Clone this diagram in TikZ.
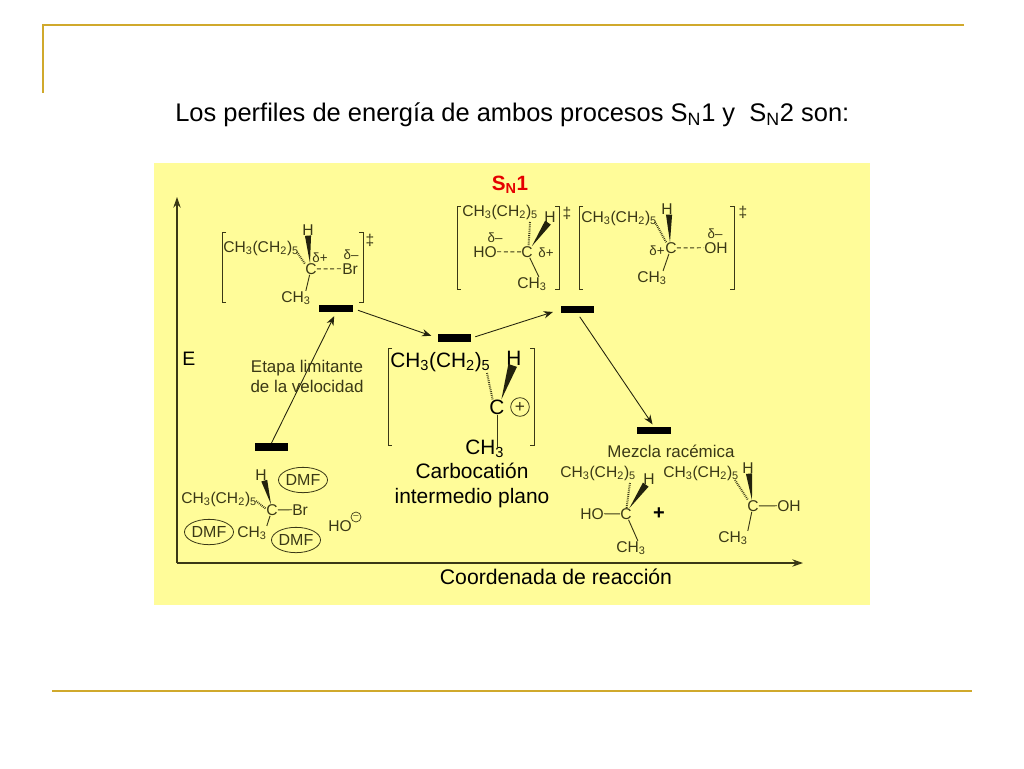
\documentclass[tikz,border=0pt]{standalone}
\usepackage{fontspec}
\setmainfont{Liberation Sans}
\usepackage{tikz}
\usetikzlibrary{shapes,arrows.meta,calc,positioning}

\definecolor{frameline}{HTML}{D0A92C}
\definecolor{panel}{HTML}{FFFC99}
\definecolor{ink}{HTML}{3A3816}

\newcommand{\chainCH}{CH\textsubscript{3}(CH\textsubscript{2})\textsubscript{5}}
\newcommand{\methyl}{CH\textsubscript{3}}
\newcommand{\brackets}[4]{\draw[bracketline] (#1+4,#3) -- (#1,#3) -- (#1,#4) -- (#1+4,#4);
        \draw[bracketline] (#2-4,#3) -- (#2,#3) -- (#2,#4) -- (#2-4,#4);}
\newcommand{\wedgebond}[3]{\fill[ink!60!black] (#1) -- ($(#2)!#3!90:(#1)$) -- ($(#2)!#3!-90:(#1)$) -- cycle;}

\tikzset{
    rule/.style={draw=frameline,line width=1.6pt},
    level/.style={fill=black,minimum width=25pt,minimum height=5.6pt,inner sep=0pt},
    profile/.style={draw=ink!60!black,line width=.65pt,-{Stealth[length=7pt,width=5.5pt]}},
    axis/.style={draw=ink,line width=.9pt,-{Stealth[length=8pt,width=5.5pt]}},
    bond/.style={draw=ink,line width=.7pt},
    partial/.style={bond,dash pattern=on 3pt off 2pt},
    hash/.style={draw=ink,line width=1.5pt,dash pattern=on .6pt off .8pt},
    bracketline/.style={draw=ink,line width=.7pt},
    lab/.style={anchor=base west,inner sep=0pt,text=ink,font=\fontsize{11.7}{14}\selectfont},
    atom/.style={inner sep=0pt,text=ink,font=\fontsize{11.7}{14}\selectfont},
    charge/.style={inner sep=0pt,text=ink,font=\fontsize{10}{12}\selectfont},
    biglab/.style={anchor=base west,inner sep=0pt,text=black,font=\fontsize{15.6}{18}\selectfont},
    bigatom/.style={inner sep=0pt,text=black,font=\fontsize{15.6}{18}\selectfont},
    note/.style={inner sep=0pt,anchor=base,text=ink,font=\fontsize{12.7}{15}\selectfont},
    solvent/.style={ellipse,draw=ink,line width=.6pt,minimum width=33pt,minimum height=19pt,inner sep=0pt,text=ink,font=\fontsize{12}{14}\selectfont},
}

\begin{document}
\begin{tikzpicture}[x=.75pt,y=-.75pt]
    \useasboundingbox (0,0) rectangle (1024,768);
    \draw[rule] (964,25) -- (43,25) -- (43,93);
    \draw[rule] (52,691) -- (972,691);
    \node[anchor=base west,inner sep=0pt,font=\fontsize{19.1}{23}\selectfont] (title) at (175,121) {Los perfiles de energía de ambos procesos S\textsubscript{N}1 y\ \ S\textsubscript{N}2 son:};
    \fill[panel] (154,163) rectangle (870,605);

    \node[anchor=base,inner sep=0pt,text=red!90!black,font=\bfseries\fontsize{15.5}{18}\selectfont] (sn) at (510,190) {S\textsubscript{N}1};

    \coordinate (o) at (177,563);
    \coordinate (ytop) at (177,197);
    \coordinate (xend) at (803,563);
    \draw[axis] (o) -- (ytop);
    \draw[axis] (o) -- (xend);
    \node[anchor=base west,inner sep=0pt,font=\fontsize{14.6}{16}\selectfont] (e) at (182,365) {E};
    \node[anchor=base,inner sep=0pt,font=\fontsize{15.9}{18}\selectfont,text=black] (coord) at (556,584) {Coordenada de reacción};

    \node[level] (bara) at (271.5,447) {};
    \node[level] (barb) at (336,308.5) {};
    \node[level] (barc) at (454.5,338) {};
    \node[level] (bard) at (577.5,309.5) {};
    \node[level] (bare) at (654,430.5) {};
    \draw[profile,shorten >=3pt] (bara.north) -- (barb.south);
    \draw[profile,shorten <=4pt,shorten >=5pt] (barb.east) -- (barc.west);
    \draw[profile,shorten <=3pt,shorten >=6pt] (barc.east) -- (bard.west);
    \draw[profile,shorten <=3pt,shorten >=2pt] (bard.south) -- (bare.north);

    \node[note] (etapa) at (307,372) {Etapa limitante};
    \node[note] (veloc) at (307,392) {de la velocidad};
    \node[note] (mezcla) at (671,457) {Mezcla racémica};

    % first transition state
    \brackets{222}{363}{232}{302}
    \node[lab] (ca) at (223,252) {\chainCH};
    \node[atom] (ha) at (308,230) {H};
    \node[atom] (ctsa) at (311,269) {C};
    \node[lab] (bra) at (342,274) {Br};
    \node[lab] (mea) at (281,302) {\methyl};
    \node[charge] (dpa) at (320,258) {δ+};
    \node[charge] (dma) at (351,255) {δ–};
    \node[atom] (dda) at (370,240) {‡};
    \coordinate (hsa) at (297,252);
    \wedgebond{ctsa.100}{ha.south}{2.3pt}
    \draw[hash] (hsa) -- (ctsa.140);
    \draw[partial] (ctsa) -- (bra);
    \draw[bond] (ctsa) -- (mea.35);

    % second transition state
    \brackets{457}{559}{206}{289}
    \node[lab] (cb) at (462,216) {\chainCH};
    \node[atom] (hb) at (550,217) {H};
    \node[atom] (ctsb) at (527,252) {C};
    \node[lab] (hob) at (473,257) {HO};
    \node[lab] (meb) at (517,288) {\methyl};
    \node[charge] (dpb) at (546,253) {δ+};
    \node[charge] (dmb) at (495,238) {δ–};
    \node[atom] (ddb) at (567,213) {‡};
    \coordinate (hsb) at (530,222);
    \wedgebond{ctsb.50}{hb.-110}{2.6pt}
    \draw[hash] (hsb) -- (ctsb.75);
    \draw[partial] (ctsb) -- (hob);
    \draw[bond] (ctsb) -- (meb.45);

    % third transition state
    \brackets{579}{734}{206}{289}
    \node[lab] (cc) at (581,222) {\chainCH};
    \node[atom] (hc) at (667,209) {H};
    \node[atom] (ctsc) at (671,248) {C};
    \node[lab] (ohc) at (704,253) {OH};
    \node[lab] (mec) at (637,282) {\methyl};
    \node[charge] (dpc) at (657,251) {δ+};
    \node[charge] (dmc) at (715,234) {δ–};
    \node[atom] (ddc) at (743,212) {‡};
    \coordinate (hsc) at (655,222);
    \wedgebond{ctsc.100}{hc.-70}{2.3pt}
    \draw[hash] (hsc) -- (ctsc.130);
    \draw[partial] (ctsc) -- (ohc);
    \draw[bond] (ctsc) -- (mec.32);

    % carbocation
    \brackets{388}{534}{348}{445}
    \node[biglab] (cd) at (390,367) {\chainCH};
    \node[bigatom] (hd) at (514,358) {H};
    \node[bigatom] (cpl) at (497,407) {C};
    \node[biglab] (med) at (465,454) {\methyl};
    \node[circle,draw=ink,line width=.6pt,minimum size=14pt,inner sep=0pt,text=ink,font=\fontsize{13}{13}\selectfont] (plus) at (520,407) {+};
    \coordinate (hsd) at (487,373);
    \wedgebond{cpl.60}{hd.-100}{3.4pt}
    \draw[hash] (hsd) -- (cpl.120);
    \draw[bond] (cpl) -- (cpl |- med);
    \node[anchor=base,inner sep=0pt,font=\fontsize{15.7}{18}\selectfont] (carbo) at (472,478) {Carbocatión};
    \node[anchor=base,inner sep=0pt,font=\fontsize{15.7}{18}\selectfont] (plano) at (472,503) {intermedio plano};

    % reactant
    \node[lab] (ce) at (181,503) {\chainCH};
    \node[atom] (he) at (261,475) {H};
    \node[atom] (cre) at (272,510) {C};
    \node[lab] (bre) at (292,515) {Br};
    \node[lab] (mee) at (237,537) {\methyl};
    \node[lab] (hoe) at (328,531) {HO};
    \node[circle,draw=ink,line width=.5pt,minimum size=7.5pt,inner sep=0pt,text=ink,font=\fontsize{7}{7}\selectfont] (minus) at (356,517) {–};
    \node[solvent] (dmfa) at (303,480) {DMF};
    \node[solvent] (dmfb) at (209,532) {DMF};
    \node[solvent] (dmfc) at (296,540) {DMF};
    \coordinate (hse) at (256,501);
    \wedgebond{cre.100}{he.-60}{2.3pt}
    \draw[hash] (hse) -- (cre.170);
    \draw[bond] (cre) -- (bre);
    \draw[bond] (cre) -- (mee.25);

    % racemic products
    \node[lab] (cf) at (560,477) {\chainCH};
    \node[atom] (hf) at (649,479) {H};
    \node[atom] (cpf) at (626,514) {C};
    \node[lab] (hof) at (580,519) {HO};
    \node[lab] (mef) at (616,552) {\methyl};
    \coordinate (hsf) at (630,483);
    \wedgebond{cpf.60}{hf.-120}{2.6pt}
    \draw[hash] (hsf) -- (cpf.85);
    \draw[bond] (cpf) -- (hof);
    \draw[bond] (cpf) -- (mef.45);
    \node[inner sep=0pt,text=black,font=\bfseries\fontsize{15}{15}\selectfont] (and) at (659,514) {+};
    \node[lab] (cg) at (663,477) {\chainCH};
    \node[atom] (hg) at (748,468) {H};
    \node[atom] (cpg) at (753,506) {C};
    \node[lab] (ohg) at (777,511) {OH};
    \node[lab] (meg) at (718,542) {\methyl};
    \coordinate (hsg) at (735,480);
    \wedgebond{cpg.100}{hg.-80}{2.3pt}
    \draw[hash] (hsg) -- (cpg.130);
    \draw[bond] (cpg) -- (ohg);
    \draw[bond] (cpg) -- (meg.25);
\end{tikzpicture}
\end{document}
